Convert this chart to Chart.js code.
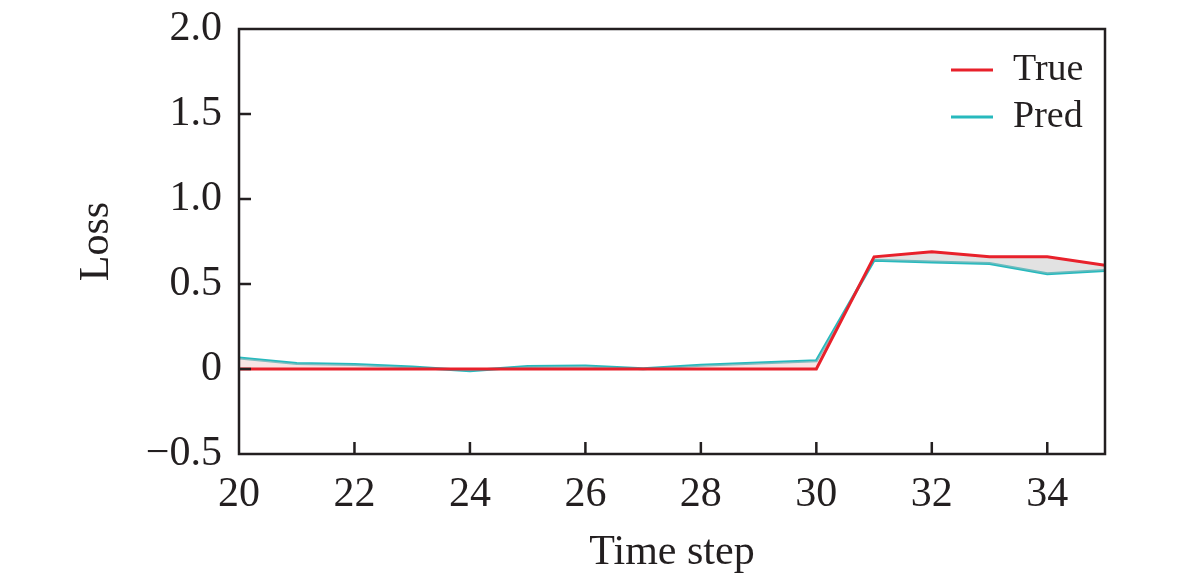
<!DOCTYPE html>
<html>
<head>
<meta charset="utf-8">
<script src="https://cdn.jsdelivr.net/npm/chart.js@4"></script>
<style>
  html, body { margin: 0; padding: 0; background: #fff; }
  #wrap { width: 1181px; height: 586px; position: relative; }
</style>
</head>
<body>
<div id="wrap"><canvas id="c"></canvas></div>
<script>
// values
const steps = [20, 21, 22, 23, 24, 25, 26, 27, 28, 29, 30, 31, 32, 33, 34, 35];
const trueLoss = [0, 0, 0, 0, 0, 0, 0, 0, 0, 0, 0, 0.66, 0.69, 0.66, 0.66, 0.61];
const predLoss = [0.065, 0.032, 0.027, 0.012, -0.01, 0.015, 0.018, 0.002, 0.022, 0.035, 0.048, 0.64, 0.63, 0.62, 0.56, 0.58];
const xTicks = [20, 22, 24, 26, 28, 30, 32, 34];
const yTicks = [-0.5, 0, 0.5, 1.0, 1.5, 2.0];

const INK = '#231f20';
const SERIF = '"Liberation Serif", "Times New Roman", serif';

const fmtY = (v) => {
  if (v === 0) return '0';
  const s = Math.abs(v).toFixed(1);
  return v < 0 ? `\u2212${s}` : s;
};

// frame, inward ticks and the legend
const decorations = {
  id: 'decorations',
  afterDraw: (ch) => {
    const { ctx, chartArea: a, scales } = ch;
    ctx.save();
    ctx.strokeStyle = INK;
    ctx.lineWidth = 2.5;
    ctx.beginPath();
    scales.x.ticks.forEach((t) => {
      const px = scales.x.getPixelForValue(t.value);
      if (px <= a.left + 1 || px >= a.right - 1) return;
      ctx.moveTo(px, a.bottom);
      ctx.lineTo(px, a.bottom - 12);
    });
    scales.y.ticks.forEach((t) => {
      const py = scales.y.getPixelForValue(t.value);
      if (py <= a.top + 1 || py >= a.bottom - 1) return;
      ctx.moveTo(a.left, py);
      ctx.lineTo(a.left + 12, py);
    });
    ctx.stroke();
    ctx.strokeRect(a.left, a.top, a.right - a.left, a.bottom - a.top);

    // legend
    ctx.font = `38px ${SERIF}`;
    ctx.textBaseline = 'middle';
    ctx.fillStyle = INK;
    ch.data.datasets.forEach((ds, i) => {
      const y = 70 + i * 47;
      ctx.strokeStyle = ds.borderColor;
      ctx.lineWidth = 3;
      ctx.beginPath();
      ctx.moveTo(951, y);
      ctx.lineTo(993, y);
      ctx.stroke();
      ctx.fillText(ds.label, 1013, y);
    });
    ctx.restore();
  },
};

// eslint-disable-next-line no-undef
new Chart(document.getElementById('c'), {
  type: 'line',
  data: {
    labels: steps,
    datasets: [{
      label: 'True',
      data: steps.map((x, i) => ({ x, y: trueLoss[i] })),
      borderColor: '#e8212b',
      borderWidth: 3,
      pointRadius: 0,
      fill: {
        target: 1,
        above: 'rgba(190, 190, 190, 0.45)',
        below: 'rgba(240, 195, 195, 0.45)',
      },
    },
    {
      label: 'Pred',
      data: steps.map((x, i) => ({ x, y: predLoss[i] })),
      borderColor: '#27b9bd',
      borderWidth: 3,
      pointRadius: 0,
      fill: false,
    }],
  },
  plugins: [decorations],
  options: {
    responsive: true,
    maintainAspectRatio: false,
    animation: false,
    layout: {
      padding: { left: 0, right: 76, top: 29, bottom: 0 },
    },
    plugins: {
      legend: { display: false },
      tooltip: { enabled: false },
    },
    scales: {
      x: {
        type: 'linear',
        min: 20,
        max: 35,
        afterBuildTicks: (scale) => {
          scale.ticks = xTicks.map((v) => ({ value: v }));
        },
        afterFit: (scale) => {
          scale.height = 132;
          scale.paddingLeft = 0;
          scale.paddingRight = 0;
        },
        grid: { display: false, drawTicks: false },
        border: { display: false },
        ticks: {
          padding: 16,
          color: INK,
          font: { family: SERIF, size: 42 },
          maxRotation: 0,
          autoSkip: false,
        },
        title: {
          display: true,
          text: 'Time step',
          color: INK,
          font: { family: SERIF, size: 42 },
          padding: { top: 0, bottom: 8 },
        },
      },
      y: {
        min: -0.5,
        max: 2.0,
        afterBuildTicks: (scale) => {
          scale.ticks = yTicks.map((v) => ({ value: v }));
        },
        afterFit: (scale) => {
          scale.width = 239;
          scale.paddingTop = 0;
          scale.paddingBottom = 0;
        },
        grid: { display: false, drawTicks: false },
        border: { display: false },
        ticks: {
          padding: 17,
          color: INK,
          font: { family: SERIF, size: 42 },
          callback: (v) => fmtY(v),
        },
        title: {
          display: true,
          text: 'Loss',
          color: INK,
          font: { family: SERIF, size: 42 },
          padding: { top: 72, bottom: 0 },
        },
      },
    },
  },
});
</script>
</body>
</html>
